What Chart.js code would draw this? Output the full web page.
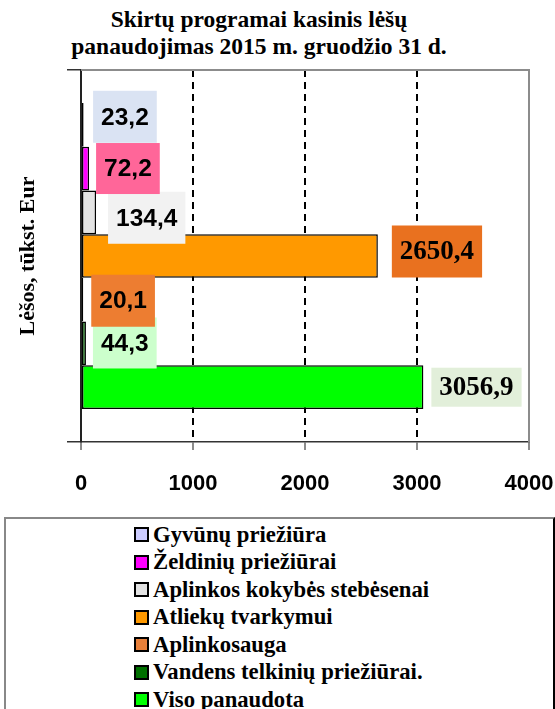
<!DOCTYPE html>
<html>
<head>
<meta charset="utf-8">
<script src="https://cdn.jsdelivr.net/npm/chart.js@4.4.1/dist/chart.umd.min.js"></script>
<style>
    body { margin: 0; background: #fff; width: 555px; height: 709px; overflow: hidden; position: relative; font-family: "Liberation Serif", "Times New Roman", serif; }
    #title { position: absolute; left: 0; top: 6px; width: 518px; text-align: center; font-weight: bold; font-size: 23.5px; line-height: 27px; color: #000; }
    #chart { position: absolute; left: 0; top: 0; }
    #legend { position: absolute; left: 4px; top: 517px; width: 547px; height: 200px; border-top: 2px solid #888; border-left: 2px solid #888; border-right: 2px solid #000; }
    .item { position: absolute; left: 128px; height: 27.5px; display: flex; align-items: center; font-weight: bold; font-size: 22.7px; white-space: nowrap; }
    .swatch { width: 11px; height: 11px; border: 2px solid #000; margin-right: 4px; flex: none; }
</style>
</head>
<body>
<div id="title">Skirtų programai kasinis lėšų<br>panaudojimas 2015 m. gruodžio 31 d.</div>
<canvas id="chart" width="555" height="510"></canvas>
<div id="legend"></div>
<script>
const seriesNames = [
    'Gyvūnų priežiūra',
    'Želdinių priežiūrai',
    'Aplinkos kokybės stebėsenai',
    'Atliekų tvarkymui',
    'Aplinkosauga',
    'Vandens telkinių priežiūrai.',
    'Viso panaudota'
];
const seriesValues = [23.2, 72.2, 134.4, 2650.4, 20.1, 44.3, 3056.9];
const barColors = ['#ccccff', '#ff00ff', '#e3e3e3', '#ff9900', '#e8803a', '#007000', '#00ff00'];
const xTicks = [0, 1000, 2000, 3000, 4000];
const axisTitle = 'Lėšos, tūkst. Eur';

// label box look, one per series (same order)
const arialLabel = 'bold 24.5px "Liberation Sans", Arial, sans-serif';
const serifLabel = 'bold 27px "Liberation Serif", "Times New Roman", serif';
const labelStyles = [
    { bg: '#dae3f3', font: arialLabel, dx: 9.5, dy: -8, h: 52, padX: 8 },
    { bg: '#ff6699', font: arialLabel, dx: 7, dy: 0, h: 51, padX: 8 },
    { bg: '#f2f2f2', font: arialLabel, dx: 12, dy: 5.5, h: 52, padX: 8 },
    { bg: '#e9711f', font: serifLabel, dx: 14, dy: -4.5, h: 52, padX: 8 },
    { bg: '#ed7d31', font: arialLabel, dx: 8, dy: 1, h: 52, padX: 8 },
    { bg: '#ccffcc', font: arialLabel, dx: 7, dy: -0.5, h: 51, padX: 8 },
    { bg: '#e2efda', font: serifLabel, dx: 8, dy: 0, h: 39, padX: 8 }
];

const valueLabels = {
    id: 'valueLabels',
    afterDatasetsDraw(chart) {
        const ctx = chart.ctx;
        // bottom series first so upper boxes overlap the lower ones
        for (let i = chart.data.datasets.length - 1; i >= 0; i--) {
            const bar = chart.getDatasetMeta(i).data[0];
            const st = labelStyles[i];
            const text = chart.data.datasets[i].data[0].toFixed(1).replace('.', ',');
            ctx.save();
            ctx.font = st.font;
            const w = ctx.measureText(text).width + 2 * st.padX;
            const left = bar.x + st.dx;
            const top = bar.y + st.dy - st.h / 2;
            ctx.fillStyle = st.bg;
            ctx.fillRect(left, top, w, st.h);
            ctx.fillStyle = '#000';
            ctx.textAlign = 'center';
            ctx.textBaseline = 'middle';
            ctx.fillText(text, left + w / 2, top + st.h / 2 + 1);
            ctx.restore();
        }
    }
};

const plotFrame = {
    id: 'plotFrame',
    afterDraw(chart) {
        const { ctx, chartArea: a } = chart;
        ctx.save();
        ctx.strokeStyle = '#8c8c8c';
        ctx.lineWidth = 2;
        ctx.beginPath();
        ctx.moveTo(a.left, a.top);
        ctx.lineTo(a.right, a.top);
        ctx.lineTo(a.right, a.bottom);
        ctx.stroke();
        ctx.restore();
    }
};

const chart = new Chart(document.getElementById('chart'), {
    type: 'bar',
    data: {
        labels: [''],
        datasets: seriesNames.map((name, i) => ({
            label: name,
            data: [seriesValues[i]],
            backgroundColor: barColors[i],
            borderColor: '#000',
            borderWidth: 1.5,
            borderSkipped: false,
            categoryPercentage: 0.823,
            barPercentage: 1.0
        }))
    },
    options: {
        indexAxis: 'y',
        responsive: false,
        animation: false,
        layout: { padding: { top: 70, left: 0, right: 26, bottom: 8 } },
        plugins: {
            legend: { display: false },
            title: { display: false },
            tooltip: { enabled: false }
        },
        scales: {
            x: {
                type: 'linear',
                min: xTicks[0],
                max: xTicks[xTicks.length - 1],
                afterBuildTicks: (scale) => { scale.ticks = xTicks.map(v => ({ value: v })); },
                afterFit: (scale) => { scale.height = 60; scale.paddingLeft = 0; scale.paddingRight = 0; },
                ticks: {
                    color: '#000',
                    padding: 21,
                    callback: (v) => String(v),
                    font: { family: '"Liberation Sans", Arial, sans-serif', size: 22, weight: 'bold' }
                },
                grid: {
                    color: (c) => (c.tick && c.tick.value > xTicks[0] && c.tick.value < xTicks[xTicks.length - 1]) ? '#000' : 'rgba(0,0,0,0)',
                    lineWidth: 2,
                    tickColor: '#666',
                    tickWidth: 1.5,
                    tickLength: 8,
                    tickBorderDash: []
                },
                border: { display: true, color: '#333', width: 1.5, dash: [7, 5] }
            },
            y: {
                type: 'category',
                afterFit: (scale) => { scale.width = 81; },
                ticks: { display: false },
                grid: {
                    offset: true,
                    drawOnChartArea: false,
                    color: '#333',
                    tickLength: 14,
                    lineWidth: 1.5
                },
                border: { display: true, color: '#222', width: 2 },
                title: {
                    display: true,
                    text: axisTitle,
                    color: '#000',
                    padding: { top: 15 },
                    font: { family: '"Liberation Serif", "Times New Roman", serif', size: 22, weight: 'bold' }
                }
            }
        }
    },
    plugins: [valueLabels, plotFrame]
});

// legend box under the chart, built from the same series
const legendElem = document.getElementById('legend');
seriesNames.forEach((name, i) => {
    const item = document.createElement('div');
    item.className = 'item';
    item.style.top = (2 + i * 27.5) + 'px';
    item.innerHTML = `<span class="swatch" style="background:${barColors[i]}"></span><span>${name}</span>`;
    legendElem.appendChild(item);
});
</script>
</body>
</html>
